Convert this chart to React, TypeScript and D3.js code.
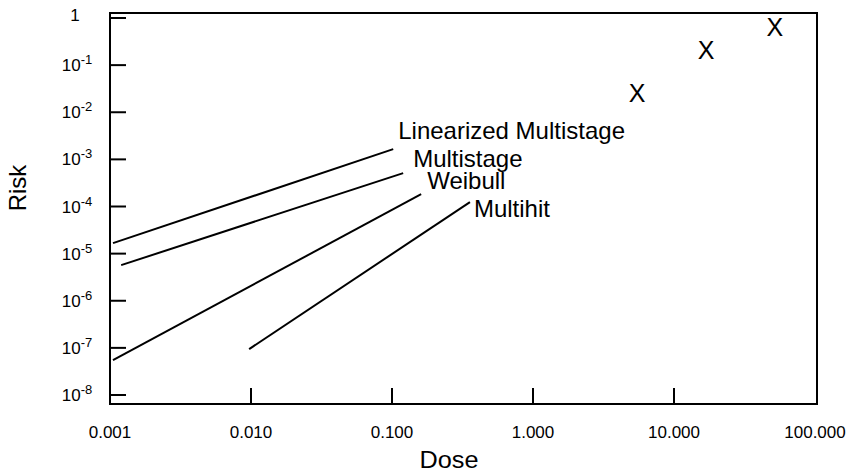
import React, { useEffect, useRef } from "react";
import * as d3 from "d3";

// dose / risk end points of each model line
const models = ["Linearized Multistage", "Multistage", "Weibull", "Multihit"];
const startDose = [0.00105, 0.0012, 0.00105, 0.0097];
const startRisk = [1.67e-5, 5.7e-6, 5.5e-8, 9.4e-8];
const endDose = [0.102, 0.12, 0.161, 0.357];
const endRisk = [1.65e-3, 5.1e-4, 1.83e-4, 1.24e-4];

// observed points
const obsDose = [5.47, 16.9, 52];
const obsRisk = [0.0257, 0.209, 0.645];

const xTicks = [0.001, 0.01, 0.1, 1, 10, 100];
const xTickLabels = ["0.001", "0.010", "0.100", "1.000", "10.000", "100.000"];
const yTicks = [1, 1e-1, 1e-2, 1e-3, 1e-4, 1e-5, 1e-6, 1e-7, 1e-8];
const yTickExp = ["", "-1", "-2", "-3", "-4", "-5", "-6", "-7", "-8"];

export default function App() {
  const ref = useRef<SVGSVGElement>(null);

  useEffect(() => {
    const width = 848;
    const height = 474;
    const frame = { left: 110, right: 817, top: 13, bottom: 404 };
    const font = "'Liberation Sans', Arial, sans-serif";

    const svg = d3.select(ref.current).attr("width", width).attr("height", height);
    svg.selectAll("*").remove();

    const x = d3.scaleLog().domain([0.001, 100]).range([110, 815]);
    const y = d3.scaleLog().domain([1e-8, 1]).range([395, 18]);

    // frame
    svg.append("rect")
      .attr("x", frame.left).attr("y", frame.top)
      .attr("width", frame.right - frame.left).attr("height", frame.bottom - frame.top)
      .attr("fill", "none").attr("stroke", "#000").attr("stroke-width", 2);

    // y ticks (inward) and labels
    const yg = svg.append("g");
    yTicks.forEach((t, i) => {
      yg.append("line")
        .attr("x1", frame.left).attr("x2", frame.left + 16)
        .attr("y1", y(t)).attr("y2", y(t))
        .attr("stroke", "#000").attr("stroke-width", 2);
      const txt = yg.append("text")
        .attr("x", 77).attr("y", y(t) + 6)
        .attr("text-anchor", "middle")
        .style("font-family", font).style("font-size", "17px");
      if (yTickExp[i] === "") {
        txt.attr("x", 75).attr("y", y(t) + 3).text("1");
      } else {
        txt.append("tspan").text("10");
        txt.append("tspan").attr("dy", -7).style("font-size", "13px").text(yTickExp[i]);
      }
    });

    // x ticks (inward) and labels
    const xg = svg.append("g");
    xTicks.forEach((t, i) => {
      if (i > 0 && i < xTicks.length - 1) {
        xg.append("line")
          .attr("x1", x(t)).attr("x2", x(t))
          .attr("y1", frame.bottom).attr("y2", frame.bottom - 16)
          .attr("stroke", "#000").attr("stroke-width", 2);
      }
      xg.append("text")
        .attr("x", x(t)).attr("y", 438)
        .attr("text-anchor", "middle")
        .style("font-family", font).style("font-size", "17px")
        .text(xTickLabels[i]);
    });

    // axis titles
    svg.append("text")
      .attr("x", 449).attr("y", 468)
      .attr("text-anchor", "middle")
      .style("font-family", font).style("font-size", "23px")
      .attr("textLength", 59).attr("lengthAdjust", "spacingAndGlyphs")
      .text("Dose");

    svg.append("text")
      .attr("transform", "translate(26, 188) rotate(-90)")
      .attr("text-anchor", "middle")
      .style("font-family", font).style("font-size", "24px")
      .text("Risk");

    // model lines
    const labelOffset = [[5, -10], [10, -6], [6, -5], [4, 15]];
    models.forEach((m, i) => {
      svg.append("line")
        .attr("x1", x(startDose[i])).attr("y1", y(startRisk[i]))
        .attr("x2", x(endDose[i])).attr("y2", y(endRisk[i]))
        .attr("stroke", "#000").attr("stroke-width", 2);
      svg.append("text")
        .attr("x", x(endDose[i]) + labelOffset[i][0])
        .attr("y", y(endRisk[i]) + labelOffset[i][1])
        .style("font-family", font).style("font-size", "24px")
        .text(m);
    });

    // observed X markers
    svg.selectAll("text.obs").data(obsDose).enter()
      .append("text")
      .attr("class", "obs")
      .attr("x", (d) => x(d))
      .attr("y", (d, i) => y(obsRisk[i]) + 9)
      .attr("text-anchor", "middle")
      .style("font-family", font).style("font-size", "25px")
      .text("X");
  }, []);

  return (
    <div>
      <style>{"body{margin:0}"}</style>
      <svg ref={ref}></svg>
    </div>
  );
}
